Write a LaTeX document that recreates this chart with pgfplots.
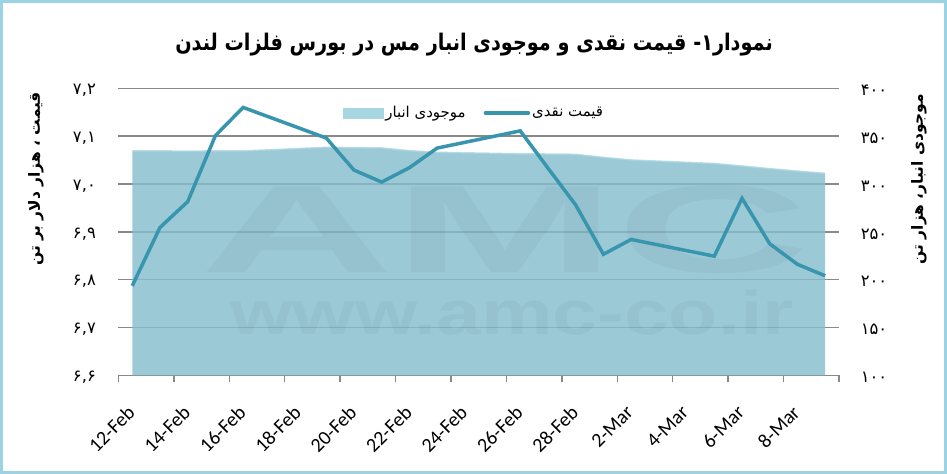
\documentclass[border=0pt]{standalone}
\usepackage{fontspec}
\usepackage{pgfplots}
\usepackage{pgfplotstable}
\pgfplotsset{compat=1.18}
\setmainfont{Carlito}
\newfontfamily\fa[Script=Arabic]{DejaVu Sans}
\newfontfamily\wm{Liberation Sans}
\TeXXeTstate=1
\definecolor{framec}{RGB}{155,211,226}
\definecolor{areac}{RGB}{133,189,205}
\definecolor{areaedge}{RGB}{172,214,226}
\definecolor{legarea}{RGB}{168,213,226}
\definecolor{linec}{RGB}{56,149,174}
\definecolor{gridc}{RGB}{137,137,137}

\pgfplotstableread{
x v
0 334.5
1 334.5
2 334.4
3 334.5
4 334.5
7 338.3
8 338.0
9 337.6
10 334.8
11 333.1
14 331.5
15 331.3
16 331.0
17 327.8
18 325.1
21 321.4
22 318.8
23 316.0
24 313.5
25 311.1
}\stocks

\pgfplotstableread{
x p
0 6.787
1 6.909
2 6.963
3 7.101
4 7.160
7 7.096
8 7.029
9 7.004
10 7.034
11 7.075
14 7.111
15 7.033
16 6.956
17 6.853
18 6.884
21 6.849
22 6.970
23 6.875
24 6.832
25 6.808
}\price

\begin{document}
\begin{tikzpicture}
\path[use as bounding box] (0bp,0bp) rectangle (947bp,474bp);
% right axis: stocks (area), grid, x axis
\begin{axis}[at={(118.4bp,98.7bp)}, anchor=south west, scale only axis,
  width=720.6bp, height=287bp,
  xmin=-0.5, xmax=25.5, ymin=100, ymax=400,
  axis x line*=bottom, axis y line*=right,
  y axis line style={draw=none},
  x axis line style={gridc, line width=1.5bp},
  ytick={100,150,200,250,300,350,400},
  yticklabels={۱۰۰,۱۵۰,۲۰۰,۲۵۰,۳۰۰,۳۵۰,۴۰۰},
  yticklabel style={font=\fa\fontsize{16.5}{16.5}\selectfont, anchor=west, xshift=14bp, yshift=-2bp},
  ytick style={draw=none},
  ymajorgrids, grid style={gridc, line width=1.5bp},
  xtick={0,2,...,24},
  xticklabels={12-Feb,14-Feb,16-Feb,18-Feb,20-Feb,22-Feb,24-Feb,26-Feb,28-Feb,2-Mar,4-Mar,6-Mar,8-Mar},
  major x tick style={draw=none},
  minor xtick={-0.5,1.5,...,25.5},
  minor tick length=7bp, tick align=outside,
  minor x tick style={gridc, line width=1.5bp},
  xticklabel style={font=\fontsize{20}{20}\selectfont, rotate=45, anchor=north east, inner sep=0pt, xshift=-21.7bp, yshift=-13.2bp},
]
\addplot[fill=areac, fill opacity=0.82, draw=none] table[x=x,y=v]{\stocks} \closedcycle;
\addplot[areaedge, line width=1.5bp, opacity=0.8] table[x=x,y=v]{\stocks};
\end{axis}
% watermark
\node[text opacity=0.03, font=\wm\bfseries\fontsize{125}{125}\selectfont, inner sep=0pt] at (505bp,244bp) {\scalebox{2.15}[1]{AMC}};
\node[text opacity=0.03, font=\wm\bfseries\fontsize{62}{62}\selectfont, inner sep=0pt] at (512bp,162bp) {\scalebox{1.3}[1]{www.amc-co.ir}};
% left axis: price line
\begin{axis}[at={(118.4bp,98.7bp)}, anchor=south west, scale only axis,
  width=720.6bp, height=287bp,
  xmin=-0.5, xmax=25.5, ymin=6.6, ymax=7.2,
  hide x axis, axis y line*=left,
  y axis line style={draw=none},
  ytick={6.6,6.7,6.8,6.9,7.0,7.1,7.2},
  yticklabels={{۶,۶},{۶,۷},{۶,۸},{۶,۹},{۷,۰},{۷,۱},{۷,۲}},
  yticklabel style={font=\fa\fontsize{16.5}{16.5}\selectfont, anchor=east, xshift=-19bp, yshift=-2bp},
  ytick style={draw=none},
  legend columns=2,
  legend style={at={(0.4935,0.914)}, anchor=center, draw=none, fill=none,
    font=\fa\fontsize{15}{15}\selectfont,
    /tikz/every even column/.append style={column sep=16bp}},
]
\addlegendimage{legend image code/.code={\fill[legarea] (0bp,-5bp) rectangle (40bp,5bp);}}
\addlegendentry{\beginR موجودی انبار\endR}
\addplot[linec, line width=3.5bp,
  legend image code/.code={\draw[linec, line width=3.5bp, line cap=round] (0bp,0bp) -- (43bp,0bp);}]
  table[x=x,y=p]{\price};
\addlegendentry{\beginR قیمت نقدی\endR}
\end{axis}
\node[rotate=90, font=\fa\bfseries\fontsize{15.5}{15.5}\selectfont] at (36bp,295bp) {\beginR قیمت ، هزار دلار بر تن\endR};
\node[rotate=90, font=\fa\bfseries\fontsize{15.5}{15.5}\selectfont] at (919bp,295bp) {\beginR موجودی انبار، هزار تن\endR};
\node[font=\fa\bfseries\fontsize{23}{23}\selectfont] at (474bp,429bp) {\scalebox{0.84}[1]{\beginR نمودار۱- قیمت نقدی و موجودی انبار مس در بورس فلزات لندن\endR}};
\draw[framec, line width=3bp] (1.5bp,1.5bp) rectangle (945.5bp,472.5bp);
\end{tikzpicture}
\end{document}
